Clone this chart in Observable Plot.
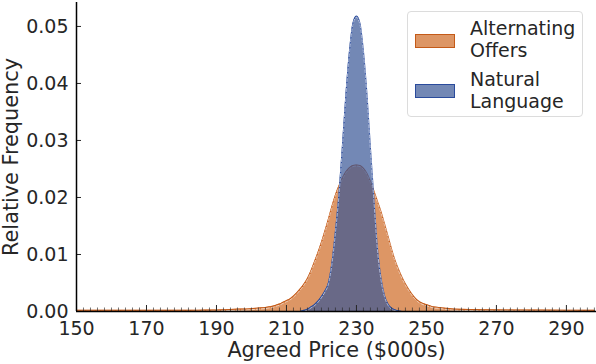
<!DOCTYPE html>
<html>
<head>
<meta charset="utf-8">
<script src="https://cdn.jsdelivr.net/npm/d3@7"></script>
<script src="https://cdn.jsdelivr.net/npm/@observablehq/plot@0.6"></script>
<style>
  html, body { margin: 0; padding: 0; background: #fff; }
  #wrap { position: relative; width: 596px; height: 364px; font-family: "DejaVu Sans", sans-serif; color: #262626; }
  #legend { position: absolute; left: 407px; top: 11px; width: 176px; height: 106px; border: 1px solid #dcdcdc; border-radius: 4px; background: rgba(255,255,255,0.8); box-sizing: border-box; }
  .lt { position: absolute; left: 62px; font-size: 19px; line-height: 21.5px; white-space: nowrap; }
  .lp { position: absolute; left: 7px; width: 40px; height: 14px; box-sizing: border-box; }
</style>
</head>
<body>
<div id="wrap"></div>
<script>
// ---- data ----
const altPrice = [150,160,170,180,185,190,192,194,196,198,200,202,204,
  205,206,207,208,209,210,211,212,213,214,215,216,217,218,219,220,221,222,223,224,225,226,227,228,229,
  230,231,232,233,234,235,236,237,238,239,240,241,242,243,244,245,246,247,248,249,250,251,252,253,
  255,258,262,266,270,280,290,298];
const altFreq = [0.0002,0.0002,0.0002,0.0002,0.00022,0.00025,0.0003,0.00035,0.0004,0.00042,0.0005,0.0006,0.0007,
  0.0008,0.0009,0.0011,0.0013,0.0016,0.0019,0.0022,0.0027,0.0033,0.0040,0.0048,0.0058,0.0071,0.0087,0.0103,0.0121,0.0141,0.0162,0.0184,0.0204,0.0220,0.0234,0.0245,0.0252,0.0256,
  0.0257,0.0256,0.0251,0.0242,0.0228,0.0211,0.0193,0.0175,0.0154,0.0132,0.0110,0.0090,0.0074,0.0060,0.0048,0.0038,0.0029,0.0022,0.0017,0.0014,0.0012,0.0010,0.0008,0.00075,
  0.0006,0.0004,0.00035,0.0003,0.00028,0.00025,0.00022,0.0002];
const natPrice = [214,215,216,217,218,219,220,221,222,223,224,225,226,227,228,229,
  230,231,232,233,234,235,236,237,238,239,240,241,242,243];
const natFreq = [0,0.0002,0.0004,0.0008,0.0012,0.0018,0.0026,0.0036,0.0050,0.0085,0.0140,0.0205,0.0290,0.0380,0.0455,0.0505,
  0.0518,0.0505,0.0455,0.0380,0.0285,0.0195,0.0110,0.0058,0.0028,0.0013,0.0006,0.0003,0.0001,0];
const seriesNames = ["Alternating Offers", "Natural Language"];
const xTicks = [150,170,190,210,230,250,270,290];
const yTicks = [0,0.01,0.02,0.03,0.04,0.05];
const xDomain = [150, 298.6];
const yDomain = [0, 0.0542];

const alt = altPrice.map((p, i) => ({price: p, freq: altFreq[i]}));
const nat = natPrice.map((p, i) => ({price: p, freq: natFreq[i]}));

const W = 596, H = 364, mT = 2, mB = 53, mL = 76, mR = 0;
const yPerPx = (yDomain[1] - yDomain[0]) / (H - mT - mB);
const xPerPx = (xDomain[1] - xDomain[0]) / (W - mL - mR);
const minorTicks = d3.range(150, 298.6, 2).filter(v => !xTicks.includes(v));

const orangeFill = "#cf6a24", orangeLine = "#c45a18";
const blueFill = "#375596", blueLine = "#2a4b9c";
const ink = "#262626";

const plot = Plot.plot({
  width: W, height: H,
  marginTop: mT, marginBottom: mB, marginLeft: mL, marginRight: mR,
  style: {fontFamily: "DejaVu Sans", fontSize: "19px", color: ink, background: "transparent"},
  x: {domain: xDomain, label: null},
  y: {domain: yDomain, label: null},
  marks: [
    Plot.areaY(alt, {x: "price", y: "freq", fill: orangeFill, fillOpacity: 0.7, curve: "monotone-x"}),
    Plot.lineY(alt, {x: "price", y: "freq", stroke: orangeLine, strokeWidth: 1.2, curve: "monotone-x"}),
    Plot.lineY(alt, {x: "price", y: "freq", stroke: "white", strokeWidth: 0.6, strokeDasharray: "3,2", dy: 1, curve: "monotone-x"}),
    Plot.areaY(nat, {x: "price", y: "freq", fill: blueFill, fillOpacity: 0.7, curve: "monotone-x"}),
    Plot.lineY(nat, {x: "price", y: "freq", stroke: blueLine, strokeWidth: 1.2, curve: "monotone-x"}),
    Plot.lineY(nat, {x: "price", y: "freq", stroke: "white", strokeWidth: 0.6, strokeDasharray: "3,2", dy: 1, curve: "monotone-x"}),
    // inward ticks
    Plot.ruleX(minorTicks, {x: d => d, y1: 0, y2: 3.5 * yPerPx, stroke: ink, strokeWidth: 0.8, strokeOpacity: 0.8}),
    Plot.ruleX(xTicks, {x: d => d, y1: 0, y2: 6 * yPerPx, stroke: ink, strokeWidth: 1}),
    Plot.ruleY(yTicks, {y: d => d, x1: xDomain[0], x2: xDomain[0] + 5 * xPerPx, stroke: ink, strokeWidth: 1}),
    // spines
    Plot.ruleY([0], {stroke: "#000", strokeWidth: 1.5}),
    Plot.ruleX([150], {stroke: "#000", strokeWidth: 1.5}),
    Plot.axisX({ticks: xTicks, tickSize: 0, tickPadding: 10, tickFormat: d => String(d), label: null}),
    Plot.axisY({ticks: yTicks, tickSize: 0, tickPadding: 8, tickFormat: d3.format(".2f"), label: null}),
    Plot.text(["Agreed Price ($000s)"], {frameAnchor: "bottom", text: d => d, fontSize: 20.8, textAnchor: "middle", lineAnchor: "middle", dy: 39, fill: ink}),
    Plot.text(["Relative Frequency"], {frameAnchor: "left", text: d => d, fontSize: 20.8, textAnchor: "middle", lineAnchor: "middle", rotate: -90, dx: -64.7, fill: ink})
  ]
});

const wrap = document.getElementById("wrap");
wrap.appendChild(plot);

const legend = document.createElement("div");
legend.id = "legend";
const entries = [
  {name: seriesNames[0], fill: orangeFill, line: orangeLine, top: 6, patchTop: 22},
  {name: seriesNames[1], fill: blueFill, line: blueLine, top: 57, patchTop: 72}
];
for (const e of entries) {
  const p = document.createElement("div");
  p.className = "lp";
  p.style.top = e.patchTop + "px";
  p.style.background = d3.color(e.fill).copy({opacity: 0.7}).formatRgb();
  p.style.border = "1px solid " + e.line;
  legend.appendChild(p);
  const t = document.createElement("div");
  t.className = "lt";
  t.style.top = e.top + "px";
  t.innerHTML = e.name.split(" ").join("<br>");
  legend.appendChild(t);
}
wrap.appendChild(legend);
</script>
</body>
</html>
